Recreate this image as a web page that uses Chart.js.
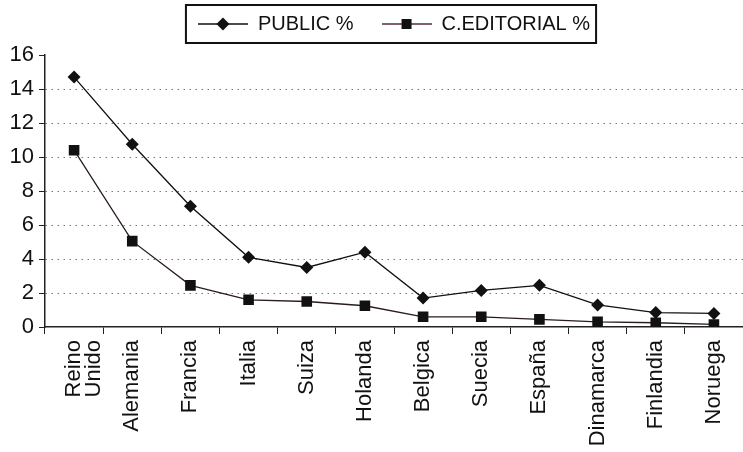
<!DOCTYPE html>
<html>
<head>
<meta charset="utf-8">
<script src="https://cdn.jsdelivr.net/npm/chart.js@4.4.1/dist/chart.umd.min.js"></script>
<style>
  html, body { margin: 0; padding: 0; background: #fff; }
  #wrap { width: 743px; height: 452px; }
</style>
</head>
<body>
<div id="wrap"><canvas id="chart"></canvas></div>
<script>
// data
const countries = [["Reino", "Unido"], "Alemania", "Francia", "Italia", "Suiza", "Holanda",
                   "Belgica", "Suecia", "España", "Dinamarca", "Finlandia", "Noruega"];
const publicPct = [14.7, 10.75, 7.1, 4.1, 3.5, 4.4, 1.7, 2.15, 2.45, 1.3, 0.85, 0.8];
const editorialPct = [10.4, 5.05, 2.45, 1.6, 1.5, 1.25, 0.6, 0.6, 0.45, 0.3, 0.25, 0.15];
const seriesNames = ["PUBLIC %", "C.EDITORIAL %"];

const FONT = "'Liberation Sans', Arial, sans-serif";

// legend swatch: line with marker in the middle
function swatch(lineColor, marker) {
    const c = document.createElement("canvas");
    c.width = 50; c.height = 16;
    const g = c.getContext("2d");
    g.strokeStyle = lineColor;
    g.lineWidth = 1.3;
    g.beginPath(); g.moveTo(0, 8); g.lineTo(50, 8); g.stroke();
    g.fillStyle = "#111";
    g.beginPath();
    if (marker == "diamond") {
        g.moveTo(25, 1.5); g.lineTo(31.5, 8); g.lineTo(25, 14.5); g.lineTo(18.5, 8);
    } else {
        g.rect(20, 3, 10, 10);
    }
    g.closePath(); g.fill();
    return c;
}
const swatches = [swatch("#111", "diamond"), swatch("#5a2a42", "square")];

// frame round the legend
const legendFrame = {
    id: "legendFrame",
    afterDraw(chart) {
        const hb = chart.legend.legendHitBoxes;
        if (!hb || !hb.length) return;
        const last = hb[hb.length - 1];
        const ctx = chart.ctx;
        ctx.save();
        ctx.strokeStyle = "#111";
        ctx.lineWidth = 2;
        const x0 = hb[0].left - 12, x1 = last.left + last.width + 6;
        const y0 = hb[0].top - 9, y1 = hb[0].top + hb[0].height + 9;
        ctx.strokeRect(x0, y0, x1 - x0, y1 - y0);
        ctx.restore();
    }
};

new Chart("chart", {
    type: "line",
    data: {
        labels: countries,
        datasets: [{
            label: seriesNames[0],
            data: publicPct,
            borderColor: "#111",
            borderWidth: 1.3,
            pointStyle: "rectRot",
            pointRadius: 6.5,
            pointBackgroundColor: "#111",
            pointBorderWidth: 0,
            tension: 0
        },{
            label: seriesNames[1],
            data: editorialPct,
            borderColor: "#2a1a22",
            borderWidth: 1.3,
            pointStyle: "rect",
            pointRadius: 7.5,
            pointBackgroundColor: "#111",
            pointBorderWidth: 0,
            tension: 0
        }]
    },
    options: {
        responsive: true,
        maintainAspectRatio: false,
        animation: false,
        layout: { autoPadding: false, padding: { top: -14, right: -2, left: 0, bottom: 0 } },
        plugins: {
            tooltip: { enabled: false },
            // empty title used as a spacer under the legend
            title: {
                display: true,
                text: "",
                position: "top",
                fullSize: false,
                weight: 500,
                padding: 0,
                font: { size: 11, lineHeight: 1 }
            },
            legend: {
                position: "top",
                fullSize: false,
                labels: {
                    usePointStyle: true,
                    pointStyleWidth: 50,
                    padding: 28,
                    color: "#111",
                    font: { family: FONT, size: 20 },
                    generateLabels: function(chart) {
                        return chart.data.datasets.map(function(ds, i) {
                            return {
                                text: ds.label,
                                pointStyle: swatches[i],
                                fillStyle: "#111",
                                strokeStyle: "#111",
                                lineWidth: 0,
                                hidden: false,
                                datasetIndex: i,
                                fontColor: "#111"
                            };
                        });
                    }
                }
            }
        },
        scales: {
            x: {
                offset: true,
                afterFit: function(scale) {
                    scale.height = 125;
                    scale.paddingLeft = 0;
                    scale.paddingRight = 0;
                },
                grid: {
                    offset: true,
                    drawOnChartArea: false,
                    tickColor: "#222",
                    tickLength: 7
                },
                border: { color: "#222", width: 1.5 },
                ticks: {
                    autoSkip: false,
                    maxRotation: 90,
                    minRotation: 90,
                    padding: 6,
                    color: "#111",
                    font: { family: FONT, size: 22, lineHeight: 0.9 }
                }
            },
            y: {
                min: 0,
                max: 16,
                afterFit: function(scale) { scale.width = 45; },
                grid: {
                    color: function(ctx) {
                        const v = ctx.tick ? ctx.tick.value : 0;
                        return (v == 0 || v == 16) ? "rgba(0,0,0,0)" : "#777";
                    },
                    lineWidth: 1,
                    tickColor: "#222",
                    tickBorderDash: [],
                    tickLength: 6
                },
                border: { color: "#222", width: 1.5, dash: [1.5, 4.5] },
                ticks: {
                    stepSize: 2,
                    padding: 5,
                    color: "#111",
                    font: { family: FONT, size: 22 }
                }
            }
        }
    },
    plugins: [legendFrame]
});
</script>
</body>
</html>
